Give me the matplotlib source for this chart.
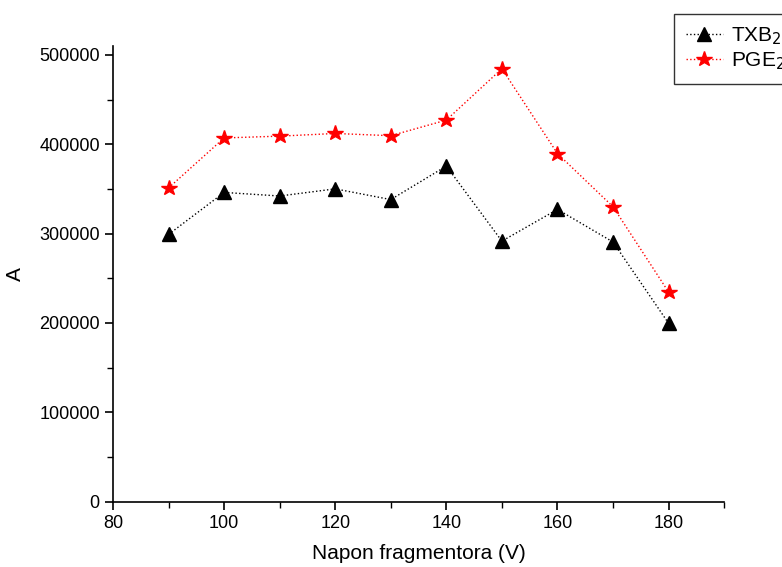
import matplotlib
matplotlib.use("Agg")
import matplotlib.pyplot as plt
from matplotlib.ticker import MultipleLocator

# data
voltage = [90, 100, 110, 120, 130, 140, 150, 160, 170, 180]
txb2 = [299000, 346000, 342000, 350000, 338000, 375500, 291500, 327000, 290500, 199500]
pge2 = [351000, 407000, 409000, 412000, 409500, 427000, 484500, 389500, 330000, 234500]

plt.rcParams['font.family'] = ['Liberation Sans', 'DejaVu Sans']

fig = plt.figure(figsize=(7.82, 5.67), dpi=100)
ax = fig.add_axes([0.1445, 0.1155, 0.7815, 0.8035])

ax.plot(voltage, txb2, linestyle=':', color='black', linewidth=1.0,
        marker='^', markersize=10.5, markerfacecolor='black',
        markeredgecolor='black', label='TXB$_2$')
ax.plot(voltage, pge2, linestyle=':', color='red', linewidth=1.0,
        marker='*', markersize=11.5, markerfacecolor='red',
        markeredgecolor='red', label='PGE$_2$')

ax.set_xlim(80, 190)
ax.set_ylim(0, 510000)
ax.xaxis.set_major_locator(MultipleLocator(20))
ax.xaxis.set_minor_locator(MultipleLocator(10))
ax.yaxis.set_major_locator(MultipleLocator(100000))
ax.yaxis.set_minor_locator(MultipleLocator(50000))

for side in ['top', 'right']:
    ax.spines[side].set_visible(False)
for side in ['left', 'bottom']:
    ax.spines[side].set_linewidth(1.2)

ax.tick_params(which='major', direction='out', length=6, width=1.2, labelsize=13)
ax.tick_params(which='minor', direction='out', length=4, width=1.0)

ax.set_xlabel('Napon fragmentora (V)', fontsize=15, labelpad=9)
ax.set_ylabel('A', fontsize=15, labelpad=10)

leg = fig.legend(loc='upper left', bbox_to_anchor=(0.862, 0.975),
                 borderaxespad=0, fontsize=15, frameon=True, fancybox=False,
                 handlelength=1.8, handletextpad=0.4, borderpad=0.55,
                 labelspacing=0.17)
leg.get_frame().set_edgecolor('black')
leg.get_frame().set_linewidth(1.0)

fig.savefig('out.png', dpi=100)
